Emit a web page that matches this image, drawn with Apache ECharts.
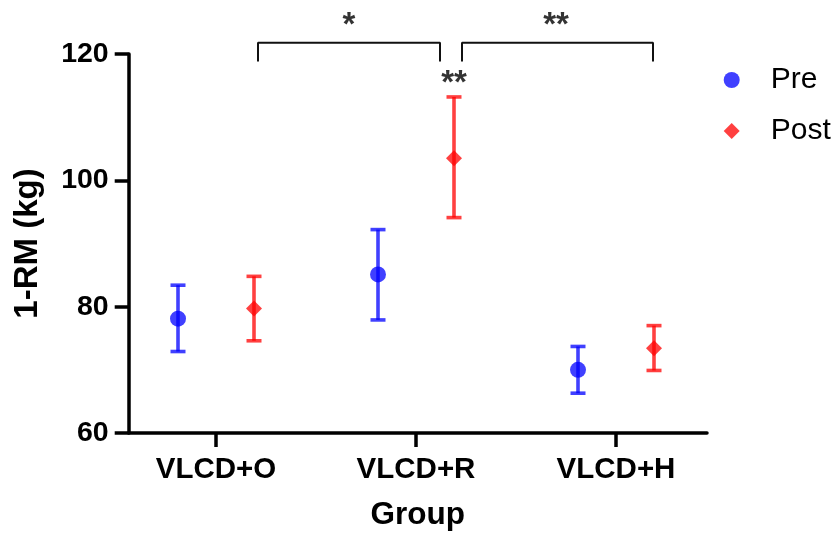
<!DOCTYPE html>
<html>
<head>
<meta charset="utf-8">
<script src="https://cdn.jsdelivr.net/npm/echarts@6/dist/echarts.min.js"></script>
<style>
html,body{margin:0;padding:0;background:#fff;}
#chart{width:835px;height:536px;}
</style>
</head>
<body>
<div id="chart"></div>
<script>
// ---- data ----
var categories = ['VLCD+O', 'VLCD+R', 'VLCD+H'];
var preMean = [78.1, 85.1, 70.0];
var preLow  = [72.9, 77.9, 66.3];
var preHigh = [83.4, 92.2, 73.7];
var postMean = [79.7, 103.5, 73.4];
var postLow  = [74.6, 94.1, 69.9];
var postHigh = [84.8, 113.2, 77.0];
var yTicks = [60, 80, 100, 120];
// significance annotations
var bracketLeft  = [0.21, 1.12];
var bracketRight = [1.23, 2.185];
var bracketTop = 121.8, bracketFoot = 118.8;
var starLabels = [['*', 0.665, 124.4], ['**', 1.70, 124.4], ['**', 1.19, 115.3]];

var preOffset = -0.19, postOffset = 0.19;
var FONT = 'Liberation Sans, Arial, Helvetica, sans-serif';
var BLUE = 'rgba(0,0,255,0.75)';
var RED = 'rgba(255,0,0,0.75)';

function pts(mean, off) { return mean.map(function (v, i) { return [i + off, v]; }); }
function bars(lo, hi, off) { return lo.map(function (v, i) { return [i + off, v, hi[i]]; }); }

function errRender(color) {
  return function (params, api) {
    var x = api.value(0);
    var a = api.coord([x, api.value(1)]);
    var b = api.coord([x, api.value(2)]);
    var hw = 7.5;
    var st = { stroke: color, lineWidth: 3.6 };
    return {
      type: 'group',
      children: [
        { type: 'line', shape: { x1: a[0], y1: a[1], x2: b[0], y2: b[1] }, style: st },
        { type: 'line', shape: { x1: a[0] - hw, y1: a[1], x2: a[0] + hw, y2: a[1] }, style: st },
        { type: 'line', shape: { x1: b[0] - hw, y1: b[1], x2: b[0] + hw, y2: b[1] }, style: st }
      ]
    };
  };
}
function bracket(r) {
  return [[r[0], bracketFoot], [r[0], bracketTop], [r[1], bracketTop], [r[1], bracketFoot]];
}

var chart = echarts.init(document.getElementById('chart'), null, { renderer: 'canvas' });
chart.setOption({
  animation: false,
  backgroundColor: '#fff',
  grid: { left: 128.7, right: 128, top: 54, bottom: 100.5, containLabel: false },
  legend: {
    orient: 'vertical',
    left: 718.7, top: 60,
    itemWidth: 16, itemHeight: 16, itemGap: 21,
    data: ['Pre', 'Post'],
    textStyle: { fontFamily: FONT, fontSize: 30, color: '#000', padding: [0, 0, 0, 26] }
  },
  xAxis: {
    type: 'value',
    min: -0.4365, max: 2.455,
    name: 'Group', nameLocation: 'middle', nameGap: 66,
    nameTextStyle: { fontFamily: FONT, fontSize: 31.5, fontWeight: 'bold', color: '#000' },
    axisLine: { onZero: false, lineStyle: { color: '#000', width: 3.5 } },
    axisTick: { show: true, length: 14, lineStyle: { color: '#000', width: 3.5 }, customValues: [0, 1, 2] },
    axisLabel: {
      customValues: [0, 1, 2], margin: 22,
      formatter: function (v) { return categories[Math.round(v)]; },
      fontFamily: FONT, fontSize: 29.5, fontWeight: 'bold', color: '#000'
    },
    splitLine: { show: false }
  },
  yAxis: {
    type: 'value', min: 60, max: 120, interval: 20,
    name: '1-RM (kg)', nameLocation: 'middle', nameGap: 84,
    nameTextStyle: { fontFamily: FONT, fontSize: 33, fontWeight: 'bold', color: '#000' },
    axisLine: { show: true, onZero: false, lineStyle: { color: '#000', width: 3.5 } },
    axisTick: { show: true, length: 14, lineStyle: { color: '#000', width: 3.5 } },
    axisLabel: { margin: 20, fontFamily: FONT, fontSize: 28.5, fontWeight: 'bold', color: '#000',
      formatter: function (v) { return yTicks.indexOf(v) >= 0 ? String(v) : ''; } },
    splitLine: { show: false }
  },
  series: [
    { name: 'Pre error', type: 'custom', renderItem: errRender(BLUE), data: bars(preLow, preHigh, preOffset), z: 2, silent: true },
    { name: 'Post error', type: 'custom', renderItem: errRender(RED), data: bars(postLow, postHigh, postOffset), z: 2, silent: true },
    { name: 'Pre', type: 'scatter', symbol: 'circle', symbolSize: 16, itemStyle: { color: BLUE, opacity: 1 }, data: pts(preMean, preOffset), z: 3 },
    { name: 'Post', type: 'scatter', symbol: 'diamond', symbolSize: 16, itemStyle: { color: RED, opacity: 1 }, data: pts(postMean, postOffset), z: 3 },
    { name: 'b1', type: 'line', data: bracket(bracketLeft), clip: false, symbol: 'none', lineStyle: { color: '#111', width: 2 }, silent: true },
    { name: 'b2', type: 'line', data: bracket(bracketRight), clip: false, symbol: 'none', lineStyle: { color: '#111', width: 2 }, silent: true },
    { name: 'stars', type: 'scatter', clip: false, symbolSize: 0, silent: true,
      data: starLabels.map(function (s) { return { value: [s[1], s[2]], name: s[0] }; }),
      label: { show: true, position: 'inside', formatter: function (p) { return p.name; },
        fontFamily: FONT, fontSize: 33, fontWeight: 'bold', color: '#000' } }
  ]
});
</script>
</body>
</html>
